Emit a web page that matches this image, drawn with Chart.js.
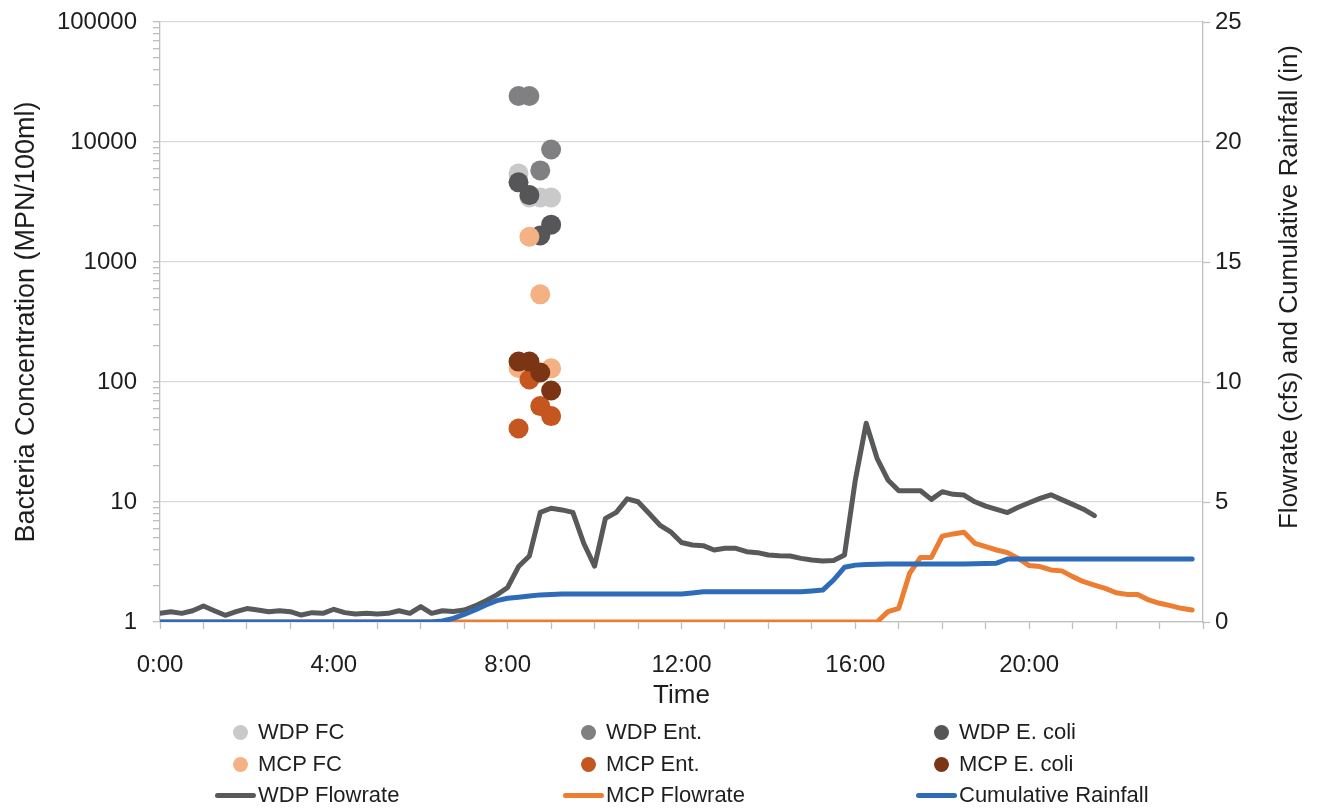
<!DOCTYPE html>
<html>
<head>
<meta charset="utf-8">
<script src="https://cdn.jsdelivr.net/npm/chart.js@4.4.1/dist/chart.umd.min.js"></script>
<style>
  html, body { margin: 0; padding: 0; background: #ffffff; }
  #wrap { position: relative; width: 1317px; height: 808px; overflow: hidden; }
  #chartBox { position: absolute; left: 0; top: 0; width: 1317px; height: 715px; }
  #legend { position: absolute; left: 0; top: 0; width: 1317px; height: 808px; pointer-events: none;
            font-family: "Liberation Sans", Arial, sans-serif; font-size: 22px; color: #1e1e1e; }
  .item { position: absolute; height: 30px; line-height: 30px; white-space: nowrap; }
  .dot { position: absolute; width: 15px; height: 15px; border-radius: 50%; }
  .bar { position: absolute; height: 5px; border-radius: 3px; }
</style>
</head>
<body>
<div id="wrap">
  <div id="chartBox"><canvas id="chart"></canvas></div>
  <div id="legend"></div>
</div>
<script>
// 15-minute sampling times for the flow and rainfall records
const sampleTimes = [
  "0:00","0:15","0:30","0:45","1:00","1:15","1:30","1:45",
  "2:00","2:15","2:30","2:45","3:00","3:15","3:30","3:45",
  "4:00","4:15","4:30","4:45","5:00","5:15","5:30","5:45",
  "6:00","6:15","6:30","6:45","7:00","7:15","7:30","7:45",
  "8:00","8:15","8:30","8:45","9:00","9:15","9:30","9:45",
  "10:00","10:15","10:30","10:45","11:00","11:15","11:30","11:45",
  "12:00","12:15","12:30","12:45","13:00","13:15","13:30","13:45",
  "14:00","14:15","14:30","14:45","15:00","15:15","15:30","15:45",
  "16:00","16:15","16:30","16:45","17:00","17:15","17:30","17:45",
  "18:00","18:15","18:30","18:45","19:00","19:15","19:30","19:45",
  "20:00","20:15","20:30","20:45","21:00","21:15","21:30","21:45",
  "22:00","22:15","22:30","22:45","23:00","23:15","23:30","23:45"
];

// WDP flowrate (cfs), 0:00 - 21:30
const wdpFlowrate = [
  0.36, 0.43, 0.36, 0.47, 0.67, 0.47, 0.28, 0.43,
  0.56, 0.50, 0.43, 0.47, 0.43, 0.29, 0.39, 0.36,
  0.53, 0.39, 0.33, 0.36, 0.33, 0.36, 0.47, 0.36,
  0.64, 0.36, 0.47, 0.44, 0.50, 0.67, 0.89, 1.13,
  1.44, 2.31, 2.75, 4.57, 4.74, 4.67, 4.57, 3.28,
  2.33, 4.32, 4.57, 5.13, 5.01, 4.53, 4.04, 3.76,
  3.31, 3.21, 3.18, 3.00, 3.07, 3.07, 2.93, 2.89,
  2.79, 2.76, 2.75, 2.65, 2.58, 2.54, 2.56, 2.79,
  5.92, 8.28, 6.82, 5.92, 5.47, 5.47, 5.47, 5.11,
  5.43, 5.32, 5.29, 5.01, 4.83, 4.69, 4.56, 4.78,
  4.97, 5.15, 5.30, 5.10, 4.90, 4.70, 4.43
];

// MCP flowrate (cfs), 0:00 - 23:45
const mcpFlowrate = [
  0, 0, 0, 0, 0, 0, 0, 0,
  0, 0, 0, 0, 0, 0, 0, 0,
  0, 0, 0, 0, 0, 0, 0, 0,
  0, 0, 0, 0, 0, 0, 0, 0,
  0, 0, 0, 0, 0, 0, 0, 0,
  0, 0, 0, 0, 0, 0, 0, 0,
  0, 0, 0, 0, 0, 0, 0, 0,
  0, 0, 0, 0, 0, 0, 0, 0,
  0, 0, 0, 0.43, 0.57, 2.03, 2.69, 2.69,
  3.58, 3.67, 3.74, 3.28, 3.14, 3.00, 2.89, 2.65,
  2.35, 2.31, 2.17, 2.13, 1.89, 1.68, 1.54, 1.40,
  1.22, 1.15, 1.15, 0.92, 0.78, 0.68, 0.57, 0.50
];

// Cumulative rainfall (in), 0:00 - 23:45
const cumulativeRainfall = [
  0, 0, 0, 0, 0, 0, 0, 0,
  0, 0, 0, 0, 0, 0, 0, 0,
  0, 0, 0, 0, 0, 0, 0, 0,
  0, 0, 0.04, 0.15, 0.32, 0.50, 0.71, 0.89,
  0.99, 1.03, 1.08, 1.13, 1.15, 1.17, 1.17, 1.17,
  1.17, 1.17, 1.17, 1.17, 1.17, 1.17, 1.17, 1.17,
  1.17, 1.21, 1.26, 1.26, 1.26, 1.26, 1.26, 1.26,
  1.26, 1.26, 1.26, 1.26, 1.29, 1.33, 1.75, 2.28,
  2.37, 2.40, 2.41, 2.42, 2.42, 2.42, 2.42, 2.42,
  2.42, 2.42, 2.42, 2.43, 2.44, 2.45, 2.62, 2.62,
  2.62, 2.62, 2.62, 2.62, 2.62, 2.62, 2.62, 2.62,
  2.62, 2.62, 2.62, 2.62, 2.62, 2.62, 2.62, 2.62
];

// Grab-sample times and bacteria concentrations (MPN/100ml)
const sampleGrabTimes = ["8:15", "8:30", "8:45", "9:00"];
const wdpFC    = [5475, 3450, 3450, 3450];
const wdpEnt   = [24196, 24196, 5794, 8664];
const wdpEcoli = [4611, 3609, 1664, 2046];
const mcpFC    = [131, 1624, 538, 130];
const mcpEnt   = [41, 105, 63, 52];
const mcpEcoli = [148, 148, 120, 85];

// Axis labels
const xTickLabels = ["0:00", "4:00", "8:00", "12:00", "16:00", "20:00"];
const leftAxisTitle = "Bacteria Concentration (MPN/100ml)";
const rightAxisTitle = "Flowrate (cfs) and Cumulative Rainfall (in)";
const xAxisTitle = "Time";

const FONT = '"Liberation Sans", Arial, sans-serif';
const TEXT = '#1e1e1e';
const AXIS = '#bfbfbf';
const GRID = '#d9d9d9';

function toHours(s) {
  const [h, m] = s.split(':').map(Number);
  return h + m / 60;
}
function seriesPoints(times, values) {
  return values.map((v, i) => ({ x: toHours(times[i]), y: v }));
}
function isDecade(v) {
  const l = Math.log10(v);
  return Math.abs(l - Math.round(l)) < 1e-9;
}

const scatterSeries = [
  { label: "WDP FC",      values: wdpFC,    color: '#c9c9c9' },
  { label: "WDP Ent.",    values: wdpEnt,   color: '#808082' },
  { label: "WDP E. coli", values: wdpEcoli, color: '#565658' },
  { label: "MCP FC",      values: mcpFC,    color: '#f4b183' },
  { label: "MCP Ent.",    values: mcpEnt,   color: '#c5561f' },
  { label: "MCP E. coli", values: mcpEcoli, color: '#7b3515' }
];
const lineSeries = [
  { label: "WDP Flowrate",        values: wdpFlowrate,        color: '#58595b' },
  { label: "MCP Flowrate",        values: mcpFlowrate,        color: '#ed7d31' },
  { label: "Cumulative Rainfall", values: cumulativeRainfall, color: '#2e6bb8' }
];

const datasets = [];
const total = scatterSeries.length + lineSeries.length;
scatterSeries.forEach((s, i) => {
  datasets.push({
    type: 'scatter',
    label: s.label,
    data: seriesPoints(sampleGrabTimes, s.values),
    yAxisID: 'y',
    xAxisID: 'x',
    backgroundColor: s.color,
    borderColor: s.color,
    borderWidth: 0,
    pointRadius: 10,
    pointHoverRadius: 10,
    showLine: false,
    order: total - i
  });
});
lineSeries.forEach((s, j) => {
  datasets.push({
    type: 'line',
    label: s.label,
    data: seriesPoints(sampleTimes, s.values),
    yAxisID: 'y2',
    xAxisID: 'x',
    borderColor: s.color,
    backgroundColor: s.color,
    borderWidth: 5,
    pointRadius: 0,
    tension: 0,
    borderCapStyle: 'round',
    borderJoinStyle: 'round',
    fill: false,
    order: total - scatterSeries.length - j
  });
});

// Right-hand axis title, read bottom-to-top like the left one
const RIGHT_TITLE_X = 1290, RIGHT_TITLE_Y = 287;
const rightTitlePlugin = {
  id: 'rightTitle',
  afterDraw(chart) {
    const { ctx } = chart;
    ctx.save();
    ctx.translate(RIGHT_TITLE_X, RIGHT_TITLE_Y);
    ctx.rotate(-Math.PI / 2);
    ctx.font = '26px ' + FONT;
    ctx.fillStyle = TEXT;
    ctx.textAlign = 'center';
    ctx.textBaseline = 'middle';
    ctx.fillText(rightAxisTitle, 0, 0);
    ctx.restore();
  }
};

const CANVAS_H = 715;
const PLOT_LEFT = 160, PLOT_RIGHT = 1203, PLOT_TOP = 22, PLOT_BOTTOM = 622;

function pinVertical(width) {
  return function (scale) {
    scale.width = width;
    scale.paddingTop = 0;
    scale.paddingBottom = 0;
  };
}

const chart = new Chart(document.getElementById('chart'), {
  data: { datasets },
  options: {
    responsive: true,
    maintainAspectRatio: false,
    animation: false,
    events: [],
    layout: { padding: { top: PLOT_TOP, left: 0, right: 0, bottom: 0 } },
    plugins: { legend: { display: false }, tooltip: { enabled: false } },
    scales: {
      x: {
        type: 'linear',
        position: 'bottom',
        min: 0,
        max: 24,
        afterFit(scale) { scale.height = CANVAS_H - PLOT_BOTTOM; },
        afterBuildTicks(scale) {
          const t = [];
          for (let h = 0; h <= 24; h++) t.push({ value: h });
          scale.ticks = t;
        },
        ticks: {
          autoSkip: false,
          maxRotation: 0,
          minRotation: 0,
          padding: 22,
          color: TEXT,
          font: { family: FONT, size: 24 },
          callback(v) {
            const lbl = xTickLabels.find(s => toHours(s) === v);
            return lbl === undefined ? '' : lbl;
          }
        },
        grid: {
          drawOnChartArea: false,
          drawTicks: true,
          tickLength: 7,
          tickColor: AXIS,
          tickWidth: 1.3
        },
        border: { color: AXIS, width: 1.3 },
        title: {
          display: true,
          text: xAxisTitle,
          color: TEXT,
          font: { family: FONT, size: 26 },
          padding: { top: 0, bottom: 4 }
        }
      },
      y: {
        type: 'logarithmic',
        position: 'left',
        min: 1,
        max: 100000,
        afterFit: pinVertical(PLOT_LEFT),
        afterBuildTicks(scale) {
          const t = [];
          for (let d = 1; d <= 100000; d *= 10) {
            for (let k = 1; k <= 9; k++) {
              const v = d * k;
              if (v > 100000) break;
              t.push({ value: v });
            }
          }
          scale.ticks = t;
        },
        ticks: {
          autoSkip: false,
          padding: 16,
          color: TEXT,
          font: { family: FONT, size: 24 },
          callback(v) { return isDecade(v) ? String(Math.round(v)) : ''; }
        },
        grid: {
          color: ctx => (ctx.tick && isDecade(ctx.tick.value)) ? GRID : 'rgba(0,0,0,0)',
          lineWidth: 1.3,
          drawTicks: true,
          tickLength: 7,
          tickColor: AXIS,
          tickWidth: 1.3
        },
        border: { color: AXIS, width: 1.3 },
        title: {
          display: true,
          text: leftAxisTitle,
          color: TEXT,
          font: { family: FONT, size: 27 },
          padding: { top: 10, bottom: 0 }
        }
      },
      y2: {
        type: 'linear',
        position: 'right',
        min: 0,
        max: 25,
        afterFit: pinVertical(1317 - PLOT_RIGHT),
        ticks: {
          stepSize: 5,
          padding: 5,
          color: TEXT,
          font: { family: FONT, size: 24 }
        },
        grid: {
          drawOnChartArea: false,
          drawTicks: true,
          tickLength: 7,
          tickColor: AXIS,
          tickWidth: 1.3
        },
        border: { color: AXIS, width: 1.3 }
      }
    }
  },
  plugins: [rightTitlePlugin]
});

// Legend laid out in three columns, built from the chart's own datasets
(function buildLegend() {
  const legend = document.getElementById('legend');
  const textX = [258, 606, 959];
  const rowY = [732, 764, 795];
  chart.data.datasets.forEach((ds, i) => {
    const col = i % 3, row = Math.floor(i / 3);
    const cy = rowY[row];
    if (ds.type === 'scatter') {
      const dot = document.createElement('div');
      dot.className = 'dot';
      dot.style.background = ds.backgroundColor;
      dot.style.left = (textX[col] - 25) + 'px';
      dot.style.top = (cy - 7.5) + 'px';
      legend.appendChild(dot);
    } else {
      const bar = document.createElement('div');
      bar.className = 'bar';
      bar.style.background = ds.borderColor;
      bar.style.left = (textX[col] - 43) + 'px';
      bar.style.width = '41px';
      bar.style.top = (cy - 2.5) + 'px';
      legend.appendChild(bar);
    }
    const item = document.createElement('div');
    item.className = 'item';
    item.textContent = ds.label;
    item.style.left = textX[col] + 'px';
    item.style.top = (cy - 15) + 'px';
    legend.appendChild(item);
  });
})();
</script>
</body>
</html>
